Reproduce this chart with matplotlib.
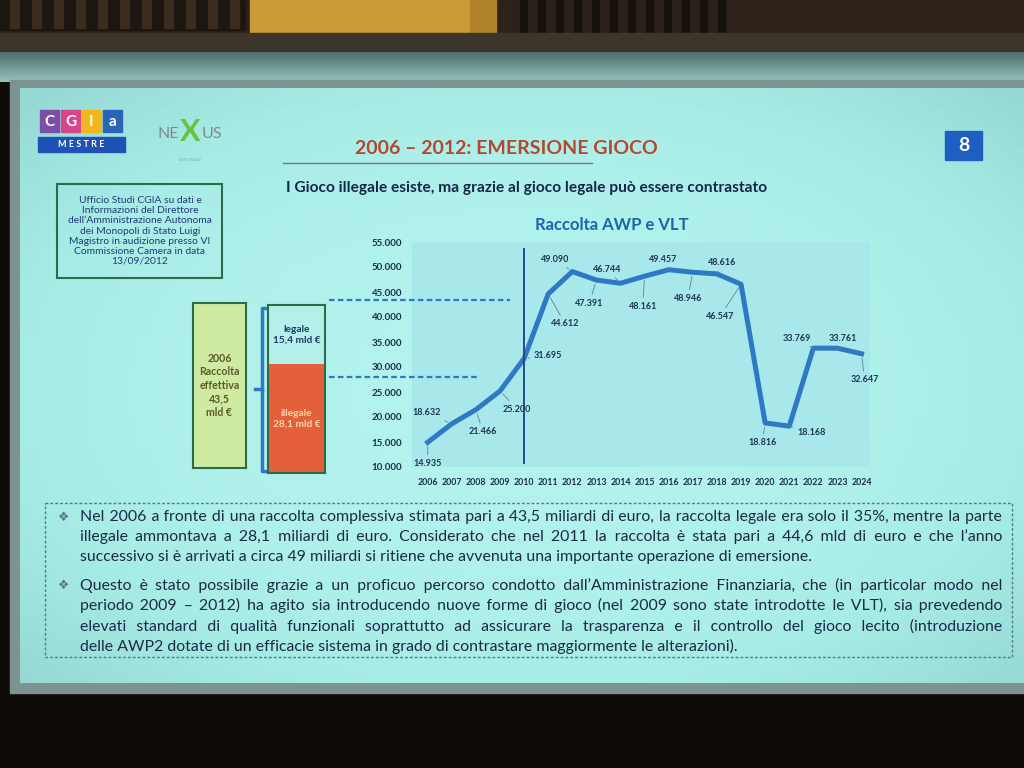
import numpy as np
import matplotlib.pyplot as plt
from matplotlib.patches import Rectangle
from matplotlib.ticker import FuncFormatter

# dati: raccolta AWP e VLT (milioni di euro)
years = list(range(2006, 2025))
raccolta = [14935, 18632, 21466, 25200, 31695, 44612, 49090, 47391, 46744, 48161,
            49457, 48946, 48616, 46547, 18816, 18168, 33769, 33761, 32647]
y_ticks = [10000, 15000, 20000, 25000, 30000, 35000, 40000, 45000, 50000, 55000]

# 2006: raccolta effettiva (mld euro)
raccolta_2006 = 43.5
legale_2006 = 15.4
illegale_2006 = 28.1

# label offsets (pixels) for data labels
label_offsets = [(0, -21), (-25, 11), (7, -22), (17, -18), (24, 3), (17, -30),
                 (-17, 12), (-7, -23), (-13, 14), (-2, -30), (-6, 10), (-5, -26),
                 (5, 11), (-21, -32), (-3, -20), (22, -6), (-17, 10), (5, 10), (3, -26)]

text_lines_1 = [
    "Nel 2006 a fronte di una raccolta complessiva stimata pari a 43,5 miliardi di euro, la raccolta legale era solo il 35%, mentre la parte",
    "illegale ammontava a 28,1 miliardi di euro. Considerato che nel 2011 la raccolta è stata pari a 44,6 mld di euro e che l’anno",
    "successivo si è arrivati a circa 49 miliardi si ritiene che avvenuta una importante operazione di emersione.",
]
text_lines_2 = [
    "Questo è stato possibile grazie a un proficuo percorso condotto dall’Amministrazione Finanziaria, che (in particolar modo nel",
    "periodo 2009 – 2012) ha agito sia introducendo nuove forme di gioco (nel 2009 sono state introdotte le VLT), sia  prevedendo",
    "elevati standard di qualità funzionali soprattutto ad assicurare la trasparenza e il controllo del gioco lecito (introduzione",
    "delle AWP2 dotate di un efficacie sistema in grado di contrastare maggiormente le alterazioni).",
]

plt.rcParams['font.family'] = ['Lato', 'DejaVu Sans']

navy = '#1c2c4e'
blue = '#2f78c4'

fig = plt.figure(figsize=(10.24, 7.68), dpi=100)
fig.patch.set_facecolor('#0e0b09')

# background in pixel coords
bg = fig.add_axes([0, 0, 1, 1])
bg.set_xlim(0, 1024)
bg.set_ylim(768, 0)
bg.axis('off')

# room
bg.add_patch(Rectangle((0, 0), 1024, 56, color='#2c2219'))
bg.add_patch(Rectangle((0, 0), 245, 30, color='#1c1510'))
for x in range(10, 240, 22):
    bg.add_patch(Rectangle((x, 0), 9, 28, color='#3a2c1e'))
bg.add_patch(Rectangle((250, 0), 220, 33, color='#c99a36'))
bg.add_patch(Rectangle((470, 0), 26, 33, color='#b0822c'))
for x in range(520, 730, 18):
    bg.add_patch(Rectangle((x, 0), 7, 38, color='#17110c'))
bg.add_patch(Rectangle((0, 33), 1024, 23, color='#3d342b'))
# screen casing
grad = np.linspace(0, 1, 30)[:, None]
bg.imshow(grad, extent=(0, 1024, 82, 52), cmap=plt.matplotlib.colors.LinearSegmentedColormap.from_list(
    'c', ['#4f6f6c', '#94c2bc']), aspect='auto', zorder=1)
# slide frame
bg.add_patch(Rectangle((10, 80), 1014, 613, color='#7d9391', zorder=2))
# slide with light vignette
yy, xx = np.mgrid[0:60, 0:100]
vig = ((xx - 50) / 50.0) ** 2 + ((yy - 30) / 30.0) ** 2
cm = plt.matplotlib.colors.LinearSegmentedColormap.from_list('s', ['#b5f4ee', '#a8ece6', '#95d8d3'])
bg.imshow(vig, extent=(20, 1024, 683, 88), cmap=cm, vmin=0, vmax=2, aspect='auto', zorder=3)

# logos
for i, (ch, col) in enumerate(zip("CGIa", ['#7b4fa8', '#d9458a', '#efb81e', '#2a64b8'])):
    x0 = 40 + i * 21
    bg.add_patch(Rectangle((x0, 110), 19, 22, color=col, zorder=4))
    bg.text(x0 + 9.5, 121.5, ch, ha='center', va='center', color='white',
            fontsize=11, fontweight='bold', zorder=5)
bg.add_patch(Rectangle((38, 137), 87, 15, color='#1f52b4', zorder=4))
bg.text(81, 144.5, "M E S T R E", ha='center', va='center', color='white',
        fontsize=6.5, fontweight='bold', zorder=5)
bg.text(168, 134, "NE", ha='center', va='center', color='#7d8a8e', fontsize=11.5, zorder=5)
bg.text(190, 132, "X", ha='center', va='center', color='#6cc23a', fontsize=22,
        fontweight='bold', zorder=5)
bg.text(212, 134, "US", ha='center', va='center', color='#7d8a8e', fontsize=11.5, zorder=5)
bg.text(190, 160, "EDITORIALE", ha='center', va='center', color='#90a4a4', fontsize=3, zorder=5)

# title
bg.text(506, 149, "2006 – 2012: EMERSIONE GIOCO", ha='center', va='center',
        color='#b4472f', fontsize=14, fontweight='bold', zorder=5)
bg.plot([283, 592], [163, 163], color='#6c7e84', lw=1, zorder=5)
bg.add_patch(Rectangle((945, 131), 37, 29, color='#1f5fc4', zorder=4))
bg.text(963.5, 145.5, "8", ha='center', va='center', color='white',
        fontsize=14, fontweight='bold', zorder=5)
bg.text(527, 188, "I Gioco illegale esiste, ma grazie al gioco legale può essere contrastato",
        ha='center', va='center', color='#14264a', fontsize=11.2, fontweight='bold', zorder=5)

# source box
bg.add_patch(Rectangle((57, 184), 165, 94, fill=False, edgecolor='#2d6b4a', lw=1.5, zorder=5))
bg.text(140, 231, "Ufficio Studi CGIA su dati e\nInformazioni del Direttore\n"
        "dell’Amministrazione Autonoma\ndei Monopoli di Stato Luigi\n"
        "Magistro in audizione presso VI\nCommissione Camera in data\n13/09/2012",
        ha='center', va='center', color='#213a7a', fontsize=7.4, linespacing=1.15, zorder=5)

# chart title
bg.text(612, 225, "Raccolta AWP e VLT", ha='center', va='center', color='#1f63a8',
        fontsize=12, fontweight='bold', zorder=5)

# brace
bg.plot([266, 262, 262, 266], [308, 308, 471, 471], color=blue, lw=2.5, zorder=5)
bg.plot([255, 262], [389, 389], color=blue, lw=2.5, zorder=5)

# bottom text box
bg.add_patch(Rectangle((45, 503), 967, 154, fill=False, edgecolor='#4f7c84', lw=1,
                       ls=(0, (2, 1.5)), zorder=5))

r = fig.canvas.get_renderer()


def text_width(s, size):
    t = bg.text(0, 0, s, fontsize=size)
    w = t.get_window_extent(r).width
    t.remove()
    return w


# fit the font so the longest line is about 905 px
body_size = 10 * 905 / text_width(text_lines_1[0], 10)
HS = '\u200a'
hs_w = (text_width('a' + HS * 20 + 'a', body_size) - text_width('aa', body_size)) / 20


def put_line(line, y, justify, x0=80, x1=1002):
    kw = dict(ha='left', va='center', color='#1a2a48', fontsize=body_size, zorder=6)
    if justify:
        words = line.split()
        extra = (x1 - x0) - text_width(' '.join(words), body_size)
        n_gaps = len(words) - 1
        total = max(0, int(round(extra / hs_w)))
        out = words[0]
        done = 0
        for k in range(1, len(words)):
            target = int(round(total * k / n_gaps))
            out += ' ' + HS * (target - done) + words[k]
            done = target
        line = out
    bg.text(x0, y, line, **kw)


for i, ln in enumerate(text_lines_1):
    put_line(ln, 517 + i * 20, i < len(text_lines_1) - 1)
for i, ln in enumerate(text_lines_2):
    put_line(ln, 585 + i * 20.5, i < len(text_lines_2) - 1)
for y in (517, 585):
    bg.text(64, y, "❖", ha='center', va='center', color='#5a7394', fontsize=9,
            family='DejaVu Sans', zorder=6)

# main chart
ax = fig.add_axes([412 / 1024, 1 - 467 / 768, 458 / 1024, 225 / 768])
ax.set_facecolor('#a8e8ea')
ax.plot(years, raccolta, color=blue, lw=3.6, zorder=3)
ax.set_xlim(2005.35, 2024.35)
ax.set_ylim(10000, 55000)
ax.set_xticks(years)
ax.set_yticks(y_ticks)
ax.yaxis.set_major_formatter(FuncFormatter(lambda v, p: f"{int(v):,}".replace(",", ".")))
ax.tick_params(length=0, colors=navy)
ax.tick_params(axis='y', labelsize=7, pad=7)
ax.tick_params(axis='x', labelsize=6.3, pad=8)
for lbl in ax.get_xticklabels() + ax.get_yticklabels():
    lbl.set_fontweight('bold')
for s in ax.spines.values():
    s.set_visible(False)
ax.axvline(2010, ymin=0.02, ymax=0.97, color='#1f4f8a', lw=1.4, zorder=4)

for yr, v, (dx, dy) in zip(years, raccolta, label_offsets):
    ax.annotate(f"{v:,}".replace(",", "."), (yr, v), xytext=(dx, dy),
                textcoords='offset pixels', ha='center', va='center', fontsize=6.5,
                color='#1e3550', fontweight='bold', zorder=5,
                arrowprops=dict(arrowstyle='-', color='#5f8496', lw=0.6,
                                shrinkA=1, shrinkB=3))

# dashed connectors from the 2006 box
ax.plot([2001.9, 2009.4], [raccolta_2006 * 1000] * 2, ls=(0, (2.5, 1.5)), color=blue,
        lw=1.6, clip_on=False, zorder=4)
ax.plot([2001.9, 2008.1], [illegale_2006 * 1000] * 2, ls=(0, (2.5, 1.5)), color=blue,
        lw=1.6, clip_on=False, zorder=4)

# 2006 total box
gax = fig.add_axes([193 / 1024, 1 - 468 / 768, 53 / 1024, 165 / 768])
gax.bar([0], [raccolta_2006], width=1, color='#cfeba2')
gax.set_xlim(-0.5, 0.5)
gax.set_ylim(0, raccolta_2006)
gax.text(0, raccolta_2006 / 2, f"2006\nRaccolta\neffettiva\n{raccolta_2006:.1f}\nmld €".replace('.', ','),
         ha='center', va='center', fontsize=7.6, fontweight='bold', color='#5b5a2a', linespacing=1.3)

# legale / illegale stacked box
bax = fig.add_axes([268 / 1024, 1 - 473 / 768, 57 / 1024, 168 / 768])
bax.bar([0], [illegale_2006], width=1, color='#e4603a')
bax.bar([0], [legale_2006], bottom=[illegale_2006], width=1, color='#b3f0ea')
bax.set_xlim(-0.5, 0.5)
bax.set_ylim(0, illegale_2006 + legale_2006)
bax.text(0, illegale_2006 + legale_2006 / 2, f"legale\n{legale_2006:.1f} mld €".replace('.', ','),
         ha='center', va='center', fontsize=7.3, fontweight='bold', color='#1d3a6a', linespacing=1.3)
bax.text(0, illegale_2006 / 2, f"illegale\n{illegale_2006:.1f} mld €".replace('.', ','),
         ha='center', va='center', fontsize=7.3, fontweight='bold', color='#f7d9aa', linespacing=1.3)

for a in (gax, bax):
    a.set_xticks([])
    a.set_yticks([])
    for s in a.spines.values():
        s.set_color('#2d6b4a')
        s.set_linewidth(1.5)

fig.savefig('out.png', dpi=100, facecolor=fig.get_facecolor())
